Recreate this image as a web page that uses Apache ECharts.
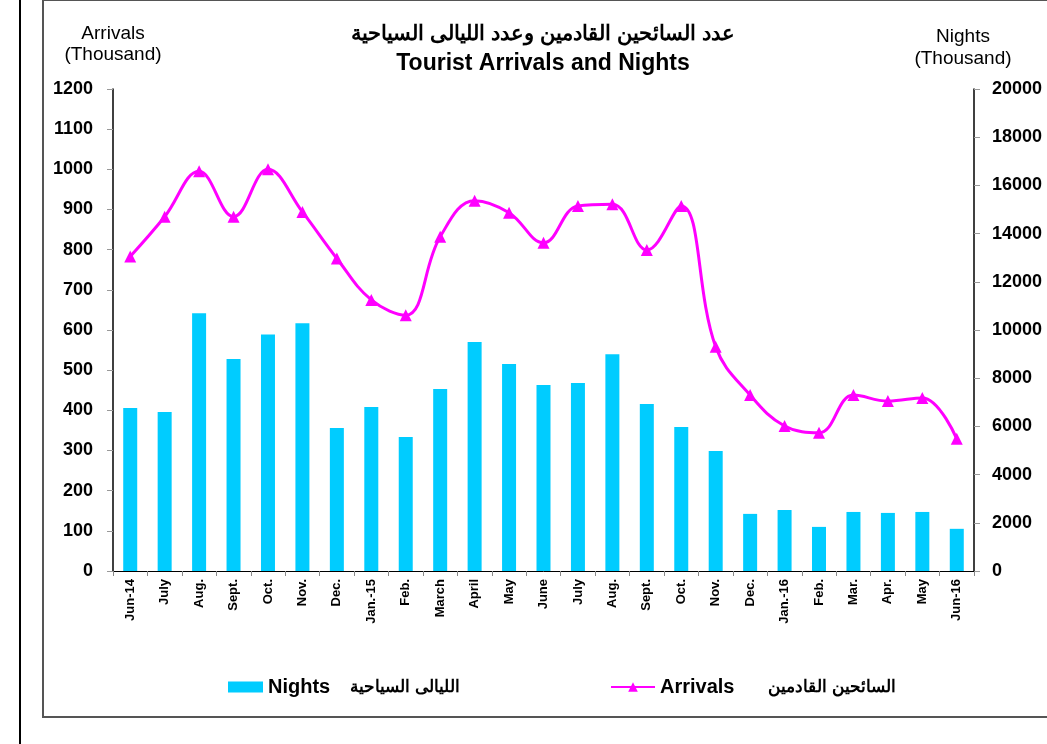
<!DOCTYPE html>
<html>
<head>
<meta charset="utf-8">
<script src="https://cdn.jsdelivr.net/npm/echarts@6/dist/echarts.min.js"></script>
<style>
  html, body { margin: 0; padding: 0; background: #fff; }
  #chart { width: 1047px; height: 744px; }
</style>
</head>
<body>
<div id="chart"></div>
<script>
// months, Jun-14 .. Jun-16
var months = ["Jun-14", "July", "Aug.", "Sept.", "Oct.", "Nov.", "Dec.", "Jan.-15", "Feb.", "March",
  "April", "May", "June", "July", "Aug.", "Sept.", "Oct.", "Nov.", "Dec.", "Jan.-16", "Feb.",
  "Mar.", "Apr.", "May", "Jun-16"];
// arrivals (thousand) - left axis
var arrivals = [783, 882, 995, 882, 1000, 894, 778, 675, 637, 832, 922, 892, 817,
  909, 913, 799, 909, 558, 438, 361, 344, 438, 423, 431, 329];
// nights (thousand) - right axis
var nights = [6760, 6600, 10700, 8800, 9810, 10280, 5930, 6800, 5560, 7550, 9500, 8590, 7720,
  7800, 8990, 6930, 5970, 4980, 2370, 2530, 1830, 2450, 2410, 2450, 1750];
var leftTicks = { min: 0, max: 1200, step: 100 };
var rightTicks = { min: 0, max: 20000, step: 2000 };

var FONT = "'Liberation Sans', Arial, sans-serif";

var myChart = echarts.init(document.getElementById("chart"));
myChart.setOption({
  animation: false,
  backgroundColor: "#fff",
  title: {
    text: "عدد السائحين القادمين وعدد الليالى السياحية",
    subtext: "Tourist Arrivals and Nights",
    left: 538,
    top: 19,
    textAlign: "center",
    itemGap: 7,
    textStyle: { fontFamily: FONT, fontWeight: "bold", fontSize: 21, color: "#000" },
    subtextStyle: { fontFamily: FONT, fontWeight: "bold", fontSize: 23, color: "#000" }
  },
  grid: { left: 113, right: 73, top: 89, bottom: 173, containLabel: false },
  legend: [
    {
      data: ["Nights"],
      left: 223, top: 672,
      itemWidth: 35, itemHeight: 11,
      icon: "rect",
      formatter: function () { return "{b|Nights}      {a|الليالى السياحية}"; },
      textStyle: {
        rich: {
          b: { fontFamily: FONT, fontWeight: "bold", fontSize: 20, color: "#000" },
          a: { fontFamily: FONT, fontWeight: "bold", fontSize: 17, color: "#000" }
        }
      }
    },
    {
      data: ["Arrivals"],
      left: 605, top: 672,
      itemWidth: 44, itemHeight: 12,
      formatter: function () { return "{b|Arrivals}          {a|السائحين القادمين}"; },
      textStyle: {
        rich: {
          b: { fontFamily: FONT, fontWeight: "bold", fontSize: 20, color: "#000" },
          a: { fontFamily: FONT, fontWeight: "bold", fontSize: 17, color: "#000" }
        }
      }
    }
  ],
  xAxis: {
    type: "category",
    data: months,
    boundaryGap: true,
    axisLine: { lineStyle: { color: "#000", width: 1 } },
    axisTick: { show: true, interval: 0, length: 5, lineStyle: { color: "#888" } },
    axisLabel: {
      interval: 0, rotate: 90, margin: 8,
      fontFamily: FONT, fontWeight: "bold", fontSize: 13, color: "#000"
    }
  },
  yAxis: [
    {
      type: "value",
      min: leftTicks.min, max: leftTicks.max, interval: leftTicks.step,
      name: "Arrivals\n(Thousand)",
      nameLocation: "end",
      nameGap: 24,
      nameTextStyle: { fontFamily: FONT, fontSize: 19, color: "#000", align: "center", lineHeight: 21 },
      axisLine: { show: true, lineStyle: { color: "#000", width: 1.5 } },
      axisTick: { show: true, length: 6, lineStyle: { color: "#999" } },
      splitLine: { show: false },
      axisLabel: {
        margin: 20, fontFamily: FONT, fontWeight: "bold", fontSize: 18, color: "#000",
        formatter: function (v) { return String(v); }
      }
    },
    {
      type: "value",
      position: "right",
      min: rightTicks.min, max: rightTicks.max, interval: rightTicks.step,
      name: "Nights\n(Thousand)",
      nameLocation: "end",
      nameGap: 19,
      nameTextStyle: { fontFamily: FONT, fontSize: 19, color: "#000", align: "center", lineHeight: 22, padding: [0, 22, 0, 0] },
      axisLine: { show: true, lineStyle: { color: "#000", width: 1.5 } },
      axisTick: { show: true, length: 6, lineStyle: { color: "#999" } },
      splitLine: { show: false },
      axisLabel: {
        margin: 18, fontFamily: FONT, fontWeight: "bold", fontSize: 18, color: "#000",
        formatter: function (v) { return String(v); }
      }
    }
  ],
  series: [
    {
      name: "Nights",
      type: "bar",
      yAxisIndex: 1,
      barWidth: 14,
      itemStyle: { color: "#00CCFF" },
      data: nights
    },
    {
      name: "Arrivals",
      type: "line",
      yAxisIndex: 0,
      smooth: 0.4,
      symbol: "triangle",
      symbolSize: 12,
      itemStyle: { color: "#FF00FF" },
      lineStyle: { color: "#FF00FF", width: 3 },
      z: 5,
      data: arrivals
    }
  ],
  graphic: [
    { type: "rect", shape: { x: 43, y: 0, width: 1020, height: 717 }, style: { fill: "none", stroke: "#555", lineWidth: 2 }, silent: true },
    { type: "line", shape: { x1: 20, y1: 0, x2: 20, y2: 744 }, style: { stroke: "#000", lineWidth: 2 }, silent: true }
  ]
});
</script>
</body>
</html>
